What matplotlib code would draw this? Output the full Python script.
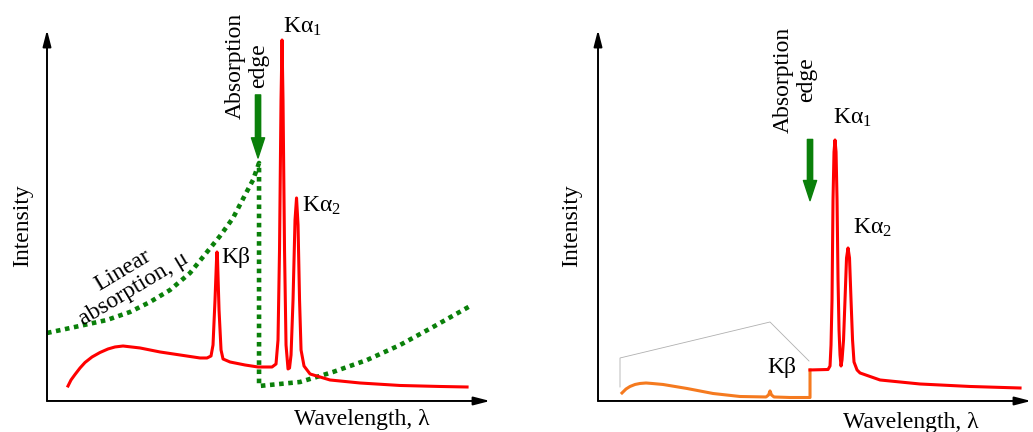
import numpy as np
import matplotlib
matplotlib.use("Agg")
import matplotlib.pyplot as plt

plt.rcParams['font.family'] = ['Liberation Serif', 'DejaVu Serif']
plt.rcParams['mathtext.default'] = 'regular'

# --- data (wavelength / intensity, arbitrary units 0..100) ---
# left panel: unfiltered spectrum
spec_x = [4.74, 5.42, 6.32, 7.45, 8.58, 10.16, 11.96, 13.77, 15.35, 17.16, 20.99, 25.51,
          30.02, 34.54, 36.12, 37.02, 37.47, 37.92, 38.26, 38.37, 38.49, 38.83, 39.28,
          39.73, 41.31, 44.70, 47.63, 50.79, 51.69, 52.14, 52.48, 52.82, 53.05, 53.27,
          53.61, 53.95, 54.40, 54.74, 55.08, 55.53, 55.98, 56.32, 56.66, 57.00, 57.34,
          58.01, 59.37, 63.88, 70.65, 79.68, 88.71, 94.81]
spec_y = [4.04, 5.66, 7.14, 8.89, 10.38, 11.86, 13.07, 14.02, 14.56, 14.82, 14.29, 13.21,
          12.40, 11.59, 11.59, 12.13, 15.09, 27.22, 38.0, 40.16, 38.0, 24.5, 13.75,
          11.32, 10.51, 9.70, 9.16, 9.16, 9.97, 16.44, 40.7, 81.13, 97.30, 81.13,
          40.7, 15.09, 8.63, 8.89, 12.40, 27.22, 48.79, 54.72, 47.44, 27.22, 13.75,
          9.43, 7.28, 5.66, 4.85, 4.18, 3.91, 3.77]

# linear absorption coefficient of the filter
mu_x = [0, 6.32, 13.54, 18.74, 23.25, 27.77, 32.28, 36.12, 39.05, 41.99, 44.70,
        46.50, 47.86, 47.86, 57.11, 64.56, 72.23, 79.68, 87.13, 95.94]
mu_y = [18.33, 19.95, 21.83, 23.99, 26.68, 29.92, 34.50, 40.16, 44.47, 49.33, 55.53,
        59.57, 64.15, 4.04, 5.12, 7.82, 11.05, 15.09, 19.95, 25.88]

# right panel: filtered spectrum, short-wavelength part (absorbed)
filt_short_x = [5.54, 6.47, 7.39, 8.55, 9.70, 11.09, 12.47, 15.01, 20.55, 26.56, 32.79,
                38.80, 39.38, 39.72, 40.07, 40.65, 44.34, 48.96, 48.96]
filt_short_y = [2.16, 3.23, 3.91, 4.45, 4.72, 4.85, 4.72, 4.45, 3.37, 2.02, 1.21,
                1.08, 1.62, 2.70, 1.62, 1.08, 0.94, 0.94, 8.36]
# long-wavelength part (transmitted)
filt_long_x = [48.96, 53.12, 53.58, 53.81, 54.04, 54.27, 54.50, 54.73, 54.97, 55.20,
               55.43, 55.66, 55.89, 56.12, 56.35, 56.70, 57.04, 57.39, 57.74, 58.08,
               58.43, 58.78, 59.12, 59.82, 60.51, 65.13, 74.36, 85.91, 97.46]
filt_long_y = [8.36, 8.49, 9.43, 15.09, 27.22, 54.18, 67.12, 70.35, 67.12, 54.18,
               32.61, 19.14, 12.40, 9.43, 11.05, 16.44, 27.22, 38.54, 41.24, 38.54,
               27.22, 16.44, 10.51, 8.36, 7.55, 5.66, 4.58, 3.91, 3.50]
# faint outline of the original continuum
ghost_x = [5.08, 5.08, 39.72, 48.73]
ghost_y = [3.77, 11.59, 21.29, 10.78]

edge_left = 47.63
edge_right = 48.96

RED = '#ff0000'
ORANGE = '#f57a1f'
GREEN = '#0a800a'
FS = 17

fig = plt.figure(figsize=(10.33, 4.32), dpi=100)
ax1 = fig.add_axes([0.0455, 0.0718, 0.4289, 0.8588])
ax2 = fig.add_axes([0.5789, 0.0718, 0.4192, 0.8588])


def frame(ax):
    ax.set_xlim(0, 100)
    ax.set_ylim(0, 100)
    for s in ax.spines.values():
        s.set_visible(False)
    ax.set_xticks([])
    ax.set_yticks([])
    ax.patch.set_alpha(0)
    arrow = dict(arrowstyle='-|>,head_width=0.18,head_length=0.7', color='black',
                 lw=1.4, shrinkA=0, shrinkB=0, mutation_scale=14)
    ax.annotate('', xy=(0, 1), xytext=(0, 0), xycoords='axes fraction', arrowprops=arrow)
    ax.annotate('', xy=(1, 0), xytext=(0, 0), xycoords='axes fraction', arrowprops=arrow)


def edge_arrow(ax, x, y0, y1):
    ax.annotate('', xy=(x, y1), xytext=(x, y0),
                arrowprops=dict(arrowstyle='simple,head_width=0.95,head_length=1.45,tail_width=0.38',
                                color=GREEN, mutation_scale=10, shrinkA=0, shrinkB=0))


# left panel
frame(ax1)
ax1.plot(mu_x, mu_y, color=GREEN, lw=3.3, linestyle=(0, (1, 1.0)), dash_capstyle='butt')
ax1.plot(spec_x, spec_y, color=RED, lw=2.2, solid_joinstyle='round')
edge_arrow(ax1, edge_left, 82.5, 65.5)
ax1.text(45.15, 90.3, 'Absorption\nedge', rotation=90, ha='center', va='center',
         fontsize=FS, linespacing=1.1)
ax1.text(53.3, 100.8, r'K$\alpha$$_1$', ha='left', va='center', fontsize=FS)
ax1.text(57.6, 52.6, r'K$\alpha$$_2$', ha='left', va='center', fontsize=FS)
ax1.text(39.3, 38.8, 'Kβ', ha='left', va='center', fontsize=FS)
ax1.text(18.3, 32.6, 'Linear\nabsorption, μ', rotation=31, rotation_mode='anchor',
         ha='center', va='center', fontsize=FS, linespacing=1.05)
ax1.text(-5.6, 47.4, 'Intensity', rotation=90, ha='center', va='center', fontsize=FS)
ax1.text(71.1, -4.9, 'Wavelength, λ', ha='center', va='center', fontsize=FS)

# right panel
frame(ax2)
ax2.plot(ghost_x, ghost_y, color='#b0b0b0', lw=0.6)
ax2.plot(filt_short_x, filt_short_y, color=ORANGE, lw=2.2, solid_joinstyle='round')
ax2.plot(filt_long_x, filt_long_y, color=RED, lw=2.2, solid_joinstyle='round')
edge_arrow(ax2, edge_right, 70.5, 54.0)
ax2.text(45.5, 86.5, 'Absorption\nedge', rotation=90, ha='center', va='center',
         fontsize=FS, linespacing=1.1)
ax2.text(54.3, 76.3, r'K$\alpha$$_1$', ha='left', va='center', fontsize=FS)
ax2.text(58.9, 46.6, r'K$\alpha$$_2$', ha='left', va='center', fontsize=FS)
ax2.text(39.0, 8.9, 'Kβ', ha='left', va='center', fontsize=FS)
ax2.text(-6.0, 47.4, 'Intensity', rotation=90, ha='center', va='center', fontsize=FS)
ax2.text(72.3, -5.7, 'Wavelength, λ', ha='center', va='center', fontsize=FS)

for ax in (ax1, ax2):
    for t in ax.texts:
        t.set_clip_on(False)

fig.savefig('out.png', dpi=100)
